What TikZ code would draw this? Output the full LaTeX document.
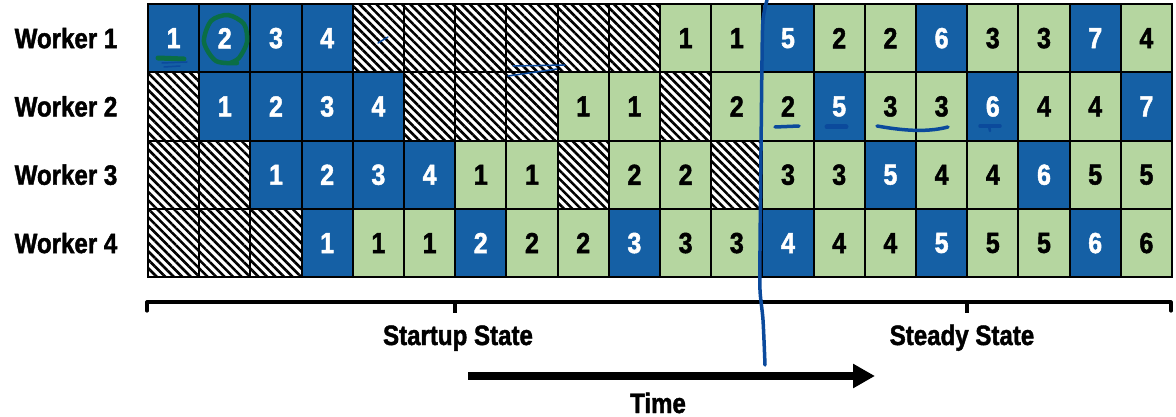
\documentclass[tikz,border=0pt]{standalone}
\usepackage{fontspec}
\setmainfont[FakeStretch=0.86, BoldFeatures={FakeStretch=0.86, FakeBold=1.6}]{Liberation Sans}
\usetikzlibrary{patterns.meta,arrows.meta}

\definecolor{taskblue}{HTML}{1560A5}
\definecolor{taskgreen}{HTML}{B5D6A0}
\definecolor{penblue}{HTML}{0B4A9C}
\definecolor{pengreen}{HTML}{0A6E45}

\tikzset{
  cellbase/.style={draw=black, line width=2pt, minimum width=51.2pt,
    minimum height=68.3pt, inner sep=0pt, font=\fontsize{29}{31}\selectfont\bfseries},
  cellB/.style={cellbase, fill=taskblue, text=white},
  cellG/.style={cellbase, fill=taskgreen, text=black},
  cellH/.style={cellbase, fill=white,
    pattern={Lines[angle=-45,distance=6pt,line width=2.6pt]}},
  lbl/.style={font=\fontsize{28}{30}\selectfont\bfseries, inner sep=0pt, anchor=base},
  pen/.style={penblue, line cap=round, line join=round},
}

\newcommand{\cellx}[1]{148+(#1-0.5)*51.2}
\newcommand{\celly}[1]{4+(#1-0.5)*68.3}

\begin{document}
\begin{tikzpicture}[x=1pt,y=-1pt]
\useasboundingbox (0,0) rectangle (1176,417);

% worker schedules: B = forward pass, G = backward pass, H = idle
\foreach \t/\l [count=\c] in {B/1,B/2,B/3,B/4,H/{},H/{},H/{},H/{},H/{},H/{},G/1,G/1,B/5,G/2,G/2,B/6,G/3,G/3,B/7,G/4}
  \node[cell\t] (c1-\c) at ({\cellx{\c}},{\celly{1}}) {\l};
\foreach \t/\l [count=\c] in {H/{},B/1,B/2,B/3,B/4,H/{},H/{},H/{},G/1,G/1,H/{},G/2,G/2,B/5,G/3,G/3,B/6,G/4,G/4,B/7}
  \node[cell\t] (c2-\c) at ({\cellx{\c}},{\celly{2}}) {\l};
\foreach \t/\l [count=\c] in {H/{},H/{},B/1,B/2,B/3,B/4,G/1,G/1,H/{},G/2,G/2,H/{},G/3,G/3,B/5,G/4,G/4,B/6,G/5,G/5}
  \node[cell\t] (c3-\c) at ({\cellx{\c}},{\celly{3}}) {\l};
\foreach \t/\l [count=\c] in {H/{},H/{},H/{},B/1,G/1,G/1,B/2,G/2,G/2,B/3,G/3,G/3,B/4,G/4,G/4,B/5,G/5,G/5,B/6,G/6}
  \node[cell\t] (c4-\c) at ({\cellx{\c}},{\celly{4}}) {\l};

% row labels
\foreach \r in {1,...,4}
  \node[lbl] (w\r) at (66,{\celly{\r}+10}) {Worker \r};

% phase bracket
\coordinate (bl) at (147,302);
\coordinate (br) at (1171,302);
\draw[line width=3.2pt, line cap=round, line join=round]
  ([yshift=-9pt]bl) -- (bl) -- (br) -- ([yshift=-9pt]br);
\draw[line width=3.2pt] (455,302) -- (455,313);
\draw[line width=3.2pt] (967,302) -- (967,313);
\node[lbl] (startup) at (458,345) {Startup State};
\node[lbl] (steady) at (962,345) {Steady State};

% time axis
\coordinate (t0) at (468,376);
\coordinate (t1) at (875,376);
\draw[line width=7.5pt, -{Triangle[length=22pt,width=23pt]}] (t0) -- (t1);
\node[lbl] (time) at (658,413) {Time};

% pen annotations
\draw[pen, line width=3.5pt] plot[smooth] coordinates
  {(767,0) (763,20) (762,60) (761,150) (760,250) (760,290) (763,320) (765,365)};
\draw[pengreen, line width=4.5pt, line cap=round] plot[smooth] coordinates
  {(237,63) (216,61) (204,42) (211,21) (228,15) (244,24) (247,42) (239,58) (230,63)};
\draw[pengreen, line width=5pt, line cap=round] (158,58) -- (184,59);
\draw[pen, line width=1.5pt] (162,63) -- (187,62);
\draw[pen, line width=1.5pt] (164,67) -- (180,66);
\draw[pen, line width=1.5pt] (378,43) -- (388,37);
\draw[pen, line width=1.5pt] (513,66) -- (565,65);
\draw[pen, line width=1.5pt] (508,76) -- (557,69);
\draw[pen, line width=3.5pt] (775,127) -- (799,126);
\draw[pen, line width=5pt] (827,127) -- (846,127);
\draw[pen, line width=3.5pt] (877,126) .. controls (900,130) and (925,133) .. (948,127);
\draw[pen, line width=3.5pt] (980,126) -- (1000,126);
\draw[pen, line width=2.5pt] (989,126) -- (990,131);
\end{tikzpicture}
\end{document}
